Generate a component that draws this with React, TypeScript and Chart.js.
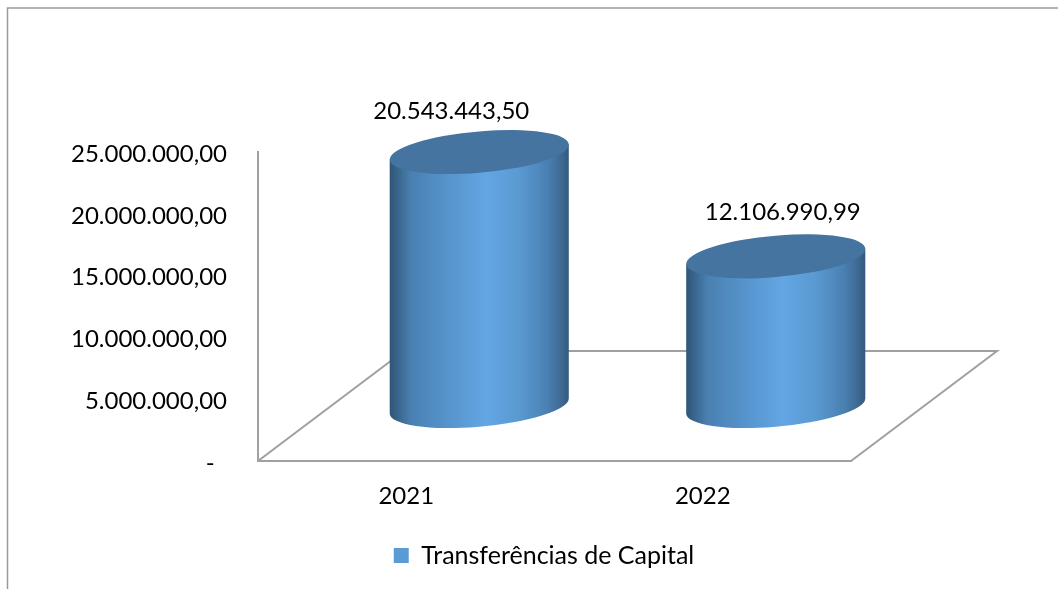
import React, { useEffect, useRef } from "react";
import { Chart, registerables } from "chart.js";

Chart.register(...registerables);

const categories = ["2021", "2022"];
const seriesName = "Transferências de Capital";
const values = [20543443.5, 12106990.99];
const dataLabels = ["20.543.443,50", "12.106.990,99"];
const labelShiftX = [-28, 7];
const labelShiftY = [-41, -44];

const FONT = "Lato, Carlito, sans-serif";
const DEPTH_X = 146;
const DEPTH_Y = 110;
const GRAY = "#a0a0a0";

const fmt = (v: number) =>
  v === 0
    ? "-  "
    : v.toLocaleString("pt-BR", { minimumFractionDigits: 2, maximumFractionDigits: 2 });

const decor = {
  id: "decor",
  afterLayout(chart: any) {
    // let the value axis labels draw outside the narrow scale box
    chart.scales.y.left = 0;
  },
  beforeDraw(chart: any) {
    const { ctx, chartArea: a } = chart;
    ctx.save();
    ctx.strokeStyle = "#9a9a9a";
    ctx.lineWidth = 1.5;
    ctx.beginPath();
    ctx.moveTo(7.5, 589);
    ctx.lineTo(7.5, 8);
    ctx.lineTo(1058, 8);
    ctx.stroke();
    ctx.strokeStyle = GRAY;
    ctx.lineWidth = 2;
    ctx.beginPath();
    ctx.moveTo(a.left, a.bottom);
    ctx.lineTo(a.left + DEPTH_X, a.bottom - DEPTH_Y);
    ctx.lineTo(a.right + DEPTH_X, a.bottom - DEPTH_Y);
    ctx.lineTo(a.right, a.bottom);
    ctx.stroke();
    ctx.restore();
  },
  beforeDatasetDraw(chart: any) {
    const { ctx } = chart;
    const meta = chart.getDatasetMeta(0);
    meta.data.forEach((bar: any) => {
      const cx = bar.x + DEPTH_X / 2;
      const a = bar.width / 2;
      const top = bar.y - DEPTH_Y / 2;
      const base = bar.base - DEPTH_Y / 2;
      const shear = -0.084;
      const b = 20.7;
      const g = ctx.createLinearGradient(cx - a, 0, cx + a, 0);
      g.addColorStop(0, "#2f5577");
      g.addColorStop(0.06, "#3d6a93");
      g.addColorStop(0.12, "#4a80b2");
      g.addColorStop(0.35, "#5796cf");
      g.addColorStop(0.54, "#63a6e4");
      g.addColorStop(0.72, "#5a9ad2");
      g.addColorStop(0.88, "#4a80b2");
      g.addColorStop(0.95, "#3f6c96");
      g.addColorStop(1, "#335a7d");
      ctx.save();
      ctx.fillStyle = g;
      ctx.beginPath();
      ctx.moveTo(cx - a, top - shear * a);
      ctx.lineTo(cx - a, base - shear * a);
      ctx.save();
      ctx.transform(1, shear, 0, 1, cx, base);
      ctx.ellipse(0, 0, a, b, 0, Math.PI, 0, true);
      ctx.restore();
      ctx.lineTo(cx + a, top + shear * a);
      ctx.closePath();
      ctx.fill();
      ctx.save();
      ctx.transform(1, shear, 0, 1, cx, top);
      ctx.fillStyle = "#44749f";
      ctx.beginPath();
      ctx.ellipse(0, 0, a, b, 0, 0, Math.PI * 2);
      ctx.fill();
      ctx.restore();
      ctx.restore();
    });
    return false;
  },
  afterDatasetsDraw(chart: any) {
    const { ctx } = chart;
    const meta = chart.getDatasetMeta(0);
    ctx.save();
    ctx.font = `24px ${FONT}`;
    ctx.fillStyle = "#000";
    ctx.textAlign = "center";
    ctx.textBaseline = "middle";
    meta.data.forEach((bar: any, i: number) => {
      const cx = bar.x + DEPTH_X / 2 + labelShiftX[i];
      const y = bar.y - DEPTH_Y / 2 + labelShiftY[i];
      ctx.fillText(dataLabels[i], cx, y);
    });
    ctx.restore();
  },
};

export default function App() {
  const ref = useRef<HTMLCanvasElement>(null);
  useEffect(() => {
    const chart = new Chart(ref.current!, {
      type: "bar",
      data: {
        labels: categories,
        datasets: [
          {
            label: seriesName,
            data: values,
            backgroundColor: "#5b9bd5",
            barPercentage: 1,
            categoryPercentage: 0.604,
          },
        ],
      },
      plugins: [decor],
      options: {
        animation: false,
        responsive: false,
        layout: { padding: { left: 237, right: 207, top: 152, bottom: 11 } },
        plugins: {
          tooltip: { enabled: false },
          legend: {
            position: "bottom",
            labels: {
              boxWidth: 15,
              boxHeight: 15,
              padding: 8,
              color: "#000",
              font: { family: FONT, size: 25 },
            },
          },
        },
        scales: {
          x: {
            grid: { display: false, drawTicks: false },
            border: { color: GRAY, width: 2 },
            ticks: { color: "#000", font: { family: FONT, size: 24 }, padding: 21 },
            afterFit(s: any) {
              s.height = 74;
            },
          },
          y: {
            min: 0,
            max: 25000000,
            grid: { display: false, drawTicks: false },
            border: { color: GRAY, width: 2 },
            ticks: {
              stepSize: 5000000,
              color: "#000",
              font: { family: FONT, size: 24 },
              padding: 31,
              labelOffset: 2,
              callback: (v: any) => fmt(Number(v)),
            },
            afterFit(s: any) {
              s.width = 21;
            },
          },
        },
      },
    } as any);
    return () => chart.destroy();
  }, []);
  return (
    <div style={{ position: "absolute", left: 0, top: 0, width: 1058, height: 589, background: "#fff" }}>
      <canvas ref={ref} width={1058} height={589} style={{ display: "block" }} />
    </div>
  );
}
